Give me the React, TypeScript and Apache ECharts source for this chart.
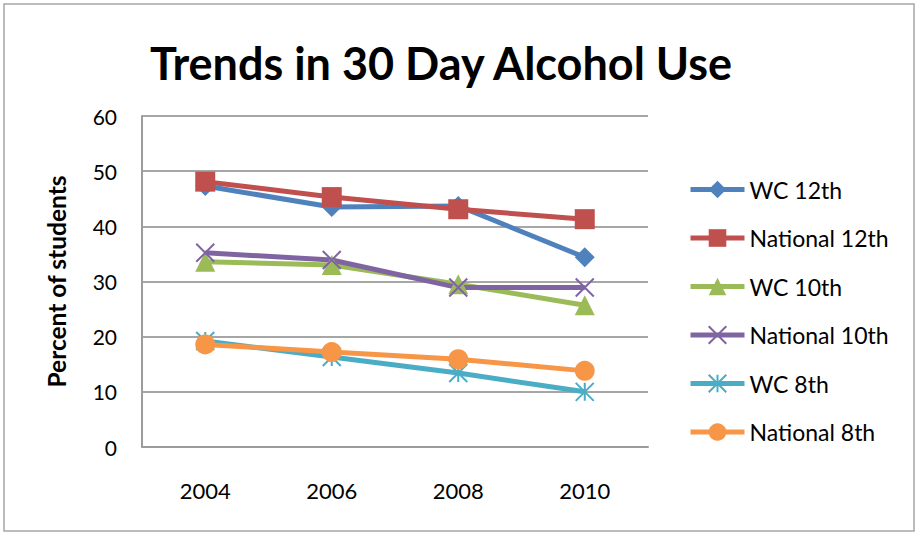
import React, { useEffect, useRef } from "react";
import * as echarts from "echarts";

const years = ["2004", "2006", "2008", "2010"];
const wc12 = [47.3, 43.5, 43.7, 34.4];
const nat12 = [48.1, 45.3, 43.1, 41.3];
const wc10 = [33.6, 33.0, 29.5, 25.7];
const nat10 = [35.2, 33.9, 28.9, 28.9];
const wc8 = [19.2, 16.3, 13.4, 10.0];
const nat8 = [18.6, 17.2, 15.9, 13.8];
const yTicks = { min: 0, max: 60, interval: 10 };

const FONT = "Lato";
const CROSS = "path://M0,0 L10,10 M10,0 L0,10";
const STAR = "path://M5,0 L5,10 M0,0 L10,10 M10,0 L0,10";

export default function App() {
  const ref = useRef<HTMLDivElement>(null);
  useEffect(() => {
    const chart = echarts.init(ref.current!, undefined, { renderer: "svg" });
    const mk = (name: string, data: number[], color: string, symbol: string, size: number, stroke = false) => ({
      name,
      type: "line",
      data,
      symbol,
      symbolSize: size,
      lineStyle: { color, width: 5 },
      itemStyle: stroke
        ? { color, borderColor: color, borderWidth: 2 }
        : { color },
      emphasis: { disabled: true },
      z: 2,
    });
    chart.setOption({
      animation: false,
      textStyle: { fontFamily: FONT },
      title: {
        text: "Trends in 30 Day Alcohol Use",
        left: 436,
        textAlign: "center",
        top: 35,
        textStyle: { fontFamily: FONT, fontWeight: "bold", fontSize: 45, color: "#000" },
      },
      graphic: [
        {
          type: "rect",
          shape: { x: 4, y: 4, width: 910, height: 527 },
          style: { fill: "none", stroke: "#a6a6a6", lineWidth: 1.5 },
          silent: true,
        },
      ],
      legend: {
        orient: "vertical",
        left: 683,
        top: 173,
        itemWidth: 54,
        itemHeight: 22,
        itemGap: 25.5,
        lineStyle: { width: 5 },
        textStyle: { fontFamily: FONT, fontSize: 23, color: "#000" },
      },
      grid: { left: 142, right: 272, top: 116, bottom: 87 },
      xAxis: {
        type: "category",
        data: years,
        boundaryGap: true,
        axisLine: { lineStyle: { color: "#9c9c9c", width: 2 } },
        axisTick: { show: false },
        axisLabel: { fontFamily: FONT, fontSize: 22, color: "#000", margin: 32 },
      },
      yAxis: {
        type: "value",
        min: yTicks.min,
        max: yTicks.max,
        interval: yTicks.interval,
        name: "Percent of students",
        nameLocation: "middle",
        nameRotate: 90,
        nameGap: 73,
        nameTextStyle: { fontFamily: FONT, fontSize: 24.5, fontWeight: "bold", color: "#000" },
        axisLine: { show: true, lineStyle: { color: "#9c9c9c", width: 2 } },
        axisTick: { show: false },
        axisLabel: { fontFamily: FONT, fontSize: 21, color: "#000", margin: 25 },
        splitLine: { lineStyle: { color: "#a6a6a6", width: 2 } },
      },
      series: [
        mk("WC 12th", wc12, "#4F81BD", "diamond", 20),
        mk("National 12th", nat12, "#C0504D", "rect", 20),
        mk("WC 10th", wc10, "#9BBB59", "triangle", 20),
        mk("National 10th", nat10, "#8064A2", CROSS, 18, true),
        mk("WC 8th", wc8, "#4BACC6", STAR, 18, true),
        mk("National 8th", nat8, "#F79646", "circle", 20),
      ],
    });
    return () => chart.dispose();
  }, []);
  return (
    <div
      ref={ref}
      style={{ position: "absolute", left: 0, top: 0, width: 920, height: 534, background: "#fff" }}
    />
  );
}
